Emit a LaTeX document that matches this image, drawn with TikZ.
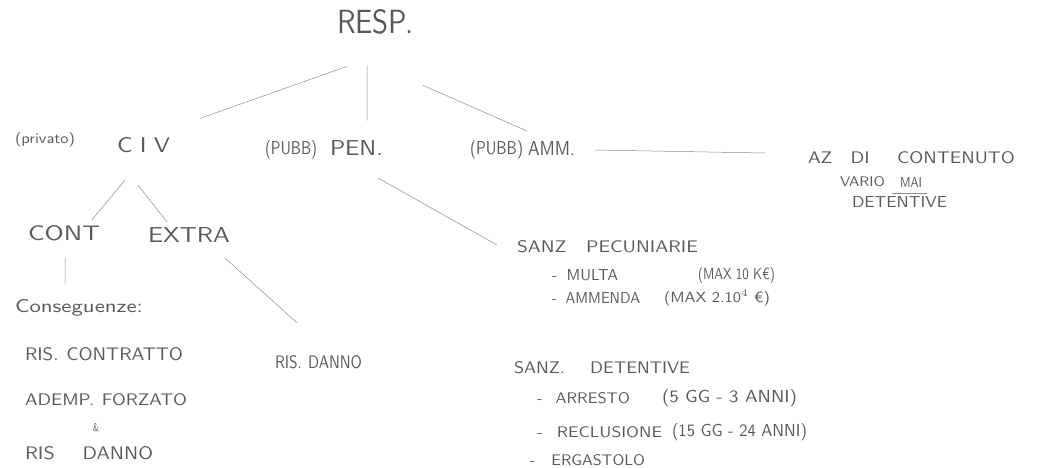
\documentclass[tikz,border=0pt]{standalone}
\usepackage{fontspec}
\usepackage{graphicx}
\newcommand\hw[3]{\resizebox{#1pt}{#2pt}{#3}}
\tikzset{
  txt/.style={anchor=west,inner sep=0pt,outer sep=0pt,text=black!65,font=\sffamily},
  ln/.style={draw=black!45,line width=0.5pt}
}
\begin{document}
\begin{tikzpicture}[x=1pt,y=-1pt]
\useasboundingbox (0,0) rectangle (1038,467);
% top
\node[txt] (resp) at (337,22) {\hw{76}{24}{RESP.}};
% level 1
\node[txt] (priv) at (15,140) {\hw{60}{11}{(privato)}};
\node[txt] (civ) at (117,145) {\hw{53}{15}{C\hspace{3pt}I\hspace{3pt}V}};
\node[txt] (pubb1) at (265,150) {\hw{52}{14}{(PUBB)}};
\node[txt] (pen) at (330,148) {\hw{53}{15}{PEN.}};
\node[txt] (pubb2) at (470,150) {\hw{53}{14}{(PUBB)}};
\node[txt] (amm) at (528,148) {\hw{47}{14}{AMM.}};
% amministrativa
\node[txt] (az) at (808,158) {\hw{207}{12}{AZ\hspace{9.5pt}DI\hspace{14.5pt}CONTENUTO}};
\node[txt] (vario) at (840,182) {\hw{45}{10}{VARIO}};
\node[txt] (mai) at (900,182) {\hw{22}{10}{MAI}};
\node[txt] (det1) at (852,202) {\hw{95}{11}{DETENTIVE}};
% civile
\node[txt] (cont) at (28,233) {\hw{72}{15}{CONT}};
\node[txt] (extra) at (148,235) {\hw{82}{15}{EXTRA}};
\node[txt] (cons) at (15,308) {\hw{128}{13}{Conseguenze:}};
\node[txt] (riscon) at (25,354) {\hw{158}{13}{RIS.\hspace{4pt}CONTRATTO}};
\node[txt] (adem) at (25,400) {\hw{162}{12}{ADEMP.\hspace{4pt}FORZATO}};
\node[txt] (amp) at (93,428) {\hw{6}{8}{\&}};
\node[txt] (risd1) at (25,453) {\hw{128}{13}{RIS\hspace{14pt}DANNO}};
\node[txt] (risd2) at (275,362) {\hw{87}{13}{RIS.\hspace{4pt}DANNO}};
% penale
\node[txt] (sanzp) at (517,247) {\hw{181}{12}{SANZ\hspace{10pt}PECUNIARIE}};
\node[txt] (multa) at (552,275) {\hw{66}{11}{-\hspace{6pt}MULTA}};
\node[txt] (multap) at (698,275) {\hw{77}{12}{(MAX 10 K€)}};
\node[txt] (ammenda) at (552,298) {\hw{88}{11}{-\hspace{6pt}AMMENDA}};
\node[txt] (ammendap) at (664,298) {\hw{106}{12}{(MAX 2.10$^{4}$ €)}};
\node[txt] (sanzd) at (514,368) {\hw{176}{12}{SANZ.\hspace{14pt}DETENTIVE}};
\node[txt] (arr) at (537,398) {\hw{93}{11}{-\hspace{8pt}ARRESTO}};
\node[txt] (arrp) at (662,398) {\hw{135}{13}{(5 GG - 3 ANNI)}};
\node[txt] (recl) at (537,432) {\hw{125}{11}{-\hspace{8pt}RECLUSIONE}};
\node[txt] (reclp) at (672,432) {\hw{135}{13}{(15 GG - 24 ANNI)}};
\node[txt] (erg) at (530,460) {\hw{115}{11}{-\hspace{10pt}ERGASTOLO}};
% connectors
\draw[ln] ([xshift=-28pt,yshift=-32pt]resp.south) -- ([xshift=30pt,yshift=19pt]civ.north east);
\draw[ln] ([xshift=-8pt,yshift=-31pt]resp.south) -- ([xshift=10.5pt,yshift=20pt]pen.north);
\draw[ln] ([xshift=48pt,yshift=-51pt]resp.south) -- ([xshift=-1pt,yshift=10pt]amm.north west);
\draw[ln] ([xshift=-18.5pt,yshift=-27.5pt]civ.south) -- ([xshift=28pt,yshift=5.5pt]cont.north);
\draw[ln] ([xshift=-5.5pt,yshift=-32.5pt]civ.south) -- ([xshift=19pt,yshift=5.5pt]extra.north west);
\draw[ln] ([xshift=1pt,yshift=-17.5pt]cont.south) -- ([xshift=50pt,yshift=16pt]cons.north west);
\draw[ln] ([xshift=-5pt,yshift=-15.5pt]extra.south east) -- ([xshift=22pt,yshift=32.5pt]risd2.north west);
\draw[ln] ([xshift=21.5pt,yshift=-22.5pt]pen.south) -- ([xshift=-20pt,yshift=2pt]sanzp.west);
\draw[ln] ([xshift=20pt,yshift=-2pt]amm.east) -- ([xshift=-43pt,yshift=5pt]az.west);
\draw[ln] ([xshift=-8pt,yshift=-6pt]mai.south west) -- ([xshift=5pt,yshift=-6pt]mai.south east);
\end{tikzpicture}
\end{document}
